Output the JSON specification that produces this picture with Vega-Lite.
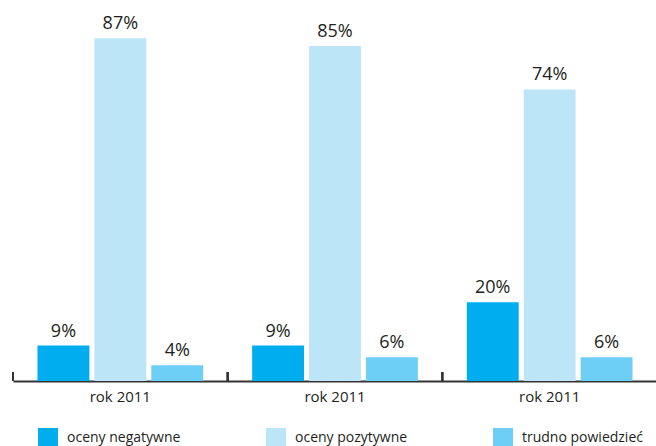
{
  "$schema": "https://vega.github.io/schema/vega-lite/v6.json",
  "width": 644,
  "height": 381,
  "autosize": {"type": "none"},
  "padding": {"left": 13, "top": 0, "right": 0, "bottom": 65},
  "config": {
    "view": {"stroke": null},
    "font": "Open Sans",
    "text": {"font": "Open Sans"}
  },
  "data": {
    "values": [
      {"grupa": "g1", "kategoria": "oceny negatywne", "wartosc": 0.09},
      {"grupa": "g1", "kategoria": "oceny pozytywne", "wartosc": 0.87},
      {"grupa": "g1", "kategoria": "trudno powiedzieć", "wartosc": 0.04},
      {"grupa": "g2", "kategoria": "oceny negatywne", "wartosc": 0.09},
      {"grupa": "g2", "kategoria": "oceny pozytywne", "wartosc": 0.85},
      {"grupa": "g2", "kategoria": "trudno powiedzieć", "wartosc": 0.06},
      {"grupa": "g3", "kategoria": "oceny negatywne", "wartosc": 0.20},
      {"grupa": "g3", "kategoria": "oceny pozytywne", "wartosc": 0.74},
      {"grupa": "g3", "kategoria": "trudno powiedzieć", "wartosc": 0.06}
    ]
  },
  "encoding": {
    "x": {
      "field": "grupa",
      "type": "nominal",
      "scale": {"paddingInner": 0, "paddingOuter": 0},
      "axis": {
        "title": null,
        "labelExpr": "'rok 2011'",
        "labelAngle": 0,
        "labelFontSize": 15,
        "labelColor": "#231f20",
        "labelFont": "Open Sans",
        "ticks": false,
        "domainColor": "#333333",
        "domainWidth": 2,
        "labelPadding": 8
      }
    },
    "y": {
      "field": "wartosc",
      "type": "quantitative",
      "scale": {"domain": [0, 0.967], "nice": false},
      "axis": null
    }
  },
  "layer": [
    {
      "mark": {"type": "bar"},
      "encoding": {
        "xOffset": {
          "field": "kategoria",
          "type": "nominal",
          "scale": {"paddingInner": 0.088, "paddingOuter": 0.43}
        },
        "color": {
          "field": "kategoria",
          "type": "nominal",
          "scale": {
            "domain": ["oceny negatywne", "oceny pozytywne", "trudno powiedzieć"],
            "range": ["#00aeef", "#bde5f8", "#6dcff6"]
          },
          "legend": {
            "title": null,
            "orient": "none",
            "direction": "horizontal",
            "legendX": 25,
            "legendY": 428,
            "padding": 0,
            "columns": 3,
            "symbolType": "square",
            "symbolSize": 400,
            "symbolStrokeWidth": 0,
            "symbolOpacity": 1,
            "labelFontSize": 14,
            "labelColor": "#231f20",
            "labelFont": "Open Sans",
            "labelOffset": 9,
            "columnPadding": 85
          }
        }
      }
    },
    {
      "mark": {"type": "text", "baseline": "alphabetic", "dy": -9, "fontSize": 18, "color": "#231f20"},
      "encoding": {
        "xOffset": {"field": "kategoria", "type": "nominal"},
        "text": {"field": "wartosc", "type": "quantitative", "format": ".0%"}
      }
    },
    {
      "mark": {"type": "rule", "strokeWidth": 2, "color": "#333333"},
      "encoding": {
        "x": {"field": "grupa", "type": "nominal", "bandPosition": 0},
        "y": {"datum": 0},
        "y2": {"datum": 0.0228}
      }
    }
  ]
}
